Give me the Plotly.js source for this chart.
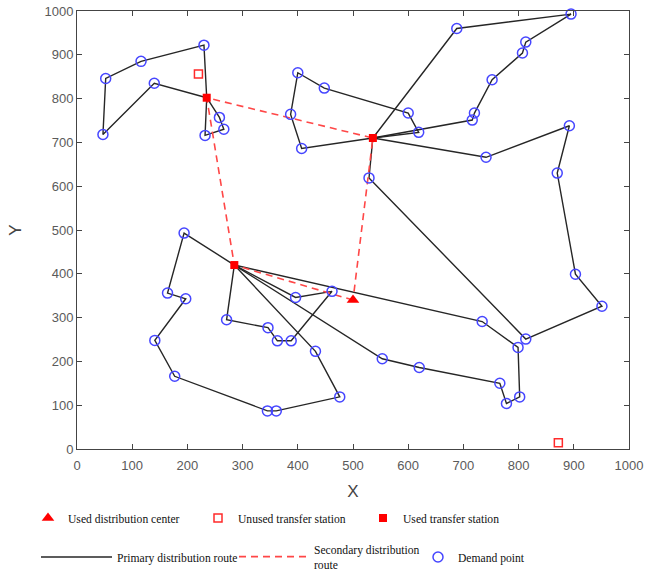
<!DOCTYPE html>
<html>
<head>
<meta charset="utf-8">
<script src="https://cdn.plot.ly/plotly-3.0.1.min.js"></script>
<style>html,body{margin:0;padding:0;background:#fff;}#chart{width:650px;height:574px;}</style>
</head>
<body>
<div id="chart"></div>
<script>
// ---- data ----
var demandX = [140,47,52,116,230,258,266,232,
  688,895,813,807,752,720,716,
  619,600,448,400,387,407,
  741,892,870,903,951,813,529,
  194,164,197,141,177,345,361,476,432,
  396,462,388,363,346,271,
  734,799,802,778,766,620,553];
var demandY = [835,718,846,885,922,757,730,716,
  960,993,929,904,843,767,751,
  723,767,824,859,764,686,
  666,738,630,399,326,251,619,
  493,356,343,248,166,87,87,119,223,
  346,360,247,247,277,295,
  291,232,119,104,150,186,206];

var centerX = [500];
var centerY = [340];

var usedStationX = [235,536,285];
var usedStationY = [802,710,420];

var unusedStationX = [220,872];
var unusedStationY = [856,14];

// primary routes (each closed loop from a used transfer station)
var routeA1X = [235,140,47,52,116,230,235];
var routeA1Y = [802,835,718,846,885,922,802];
var routeA2X = [235,258,266,232,235];
var routeA2Y = [802,757,730,716,802];
var routeB1X = [536,688,895,813,807,752,720,716,536];
var routeB1Y = [710,960,993,929,904,843,767,751,710];
var routeB2X = [536,619,600,448,400,387,407,536];
var routeB2Y = [710,723,767,824,859,764,686,710];
var routeB3X = [536,741,892,870,903,951,813,529,536];
var routeB3Y = [710,666,738,630,399,326,251,619,710];
var routeC1X = [285,194,164,197,141,177,345,361,476,432,285];
var routeC1Y = [420,493,356,343,248,166,87,87,119,223,420];
var routeC2X = [285,396,462,388,363,346,271,285];
var routeC2Y = [420,346,360,247,247,277,295,420];
var routeC3X = [285,734,799,802,778,766,620,553,285];
var routeC3Y = [420,291,232,119,104,150,186,206,420];

// secondary route: distribution center -> stations -> back
var secondaryX = [500,285,235,536,500];
var secondaryY = [340,420,802,710,340];

var tickVals = [0,100,200,300,400,500,600,700,800,900,1000];

// ---- build traces ----
function joinRoutes(list) {
  var out = [];
  list.forEach(function (r, i) {
    if (i > 0) out.push(null);
    out = out.concat(r);
  });
  return out;
}
var primaryX = joinRoutes([routeA1X, routeA2X, routeB1X, routeB2X, routeB3X, routeC1X, routeC2X, routeC3X]);
var primaryY = joinRoutes([routeA1Y, routeA2Y, routeB1Y, routeB2Y, routeB3Y, routeC1Y, routeC2Y, routeC3Y]);

var legendFont = {family: 'Liberation Serif, Times New Roman, serif', size: 11.6, color: '#111'};

var traces = [
  {x: primaryX, y: primaryY, type: 'scatter', mode: 'lines', connectgaps: false,
   name: 'Primary distribution route', legend: 'legend4',
   line: {color: '#262626', width: 1.4}},
  {x: secondaryX, y: secondaryY, type: 'scatter', mode: 'lines',
   name: 'Secondary distribution<br>route', legend: 'legend5',
   line: {color: '#ff4747', width: 1.6, dash: '7px,5px'}},
  {x: demandX, y: demandY, type: 'scatter', mode: 'markers', cliponaxis: false,
   name: 'Demand point', legend: 'legend6',
   marker: {symbol: 'circle-open', size: 10, color: '#4646ff', line: {width: 1.5, color: '#4646ff'}}},
  {x: centerX, y: centerY, type: 'scatter', mode: 'markers', cliponaxis: false,
   name: 'Used distribution center', legend: 'legend',
   marker: {symbol: 'triangle-up', size: 11, color: '#ff0000'}},
  {x: unusedStationX, y: unusedStationY, type: 'scatter', mode: 'markers', cliponaxis: false,
   name: 'Unused transfer station', legend: 'legend2',
   marker: {symbol: 'square-open', size: 8, color: '#ff2a2a', line: {width: 1.5, color: '#ff2a2a'}}},
  {x: usedStationX, y: usedStationY, type: 'scatter', mode: 'markers', cliponaxis: false,
   name: 'Used transfer station', legend: 'legend3',
   marker: {symbol: 'square', size: 8, color: '#ff0000'}}
];

// plot area: left 77, width 552; top 11, height 438
function leg(xp, yp, extra) {
  var o = {x: (xp - 77) / 552, y: (449 - yp) / 438,
    xanchor: 'left', yanchor: 'middle',
    bgcolor: 'rgba(0,0,0,0)', borderwidth: 0, font: legendFont, itemwidth: 30};
  for (var k in extra) o[k] = extra[k];
  return o;
}

function axisBase() {
  return {
    range: [0, 1000], tickvals: tickVals.slice(), ticktext: tickVals.map(String),
    ticks: 'inside', ticklen: 5, tickwidth: 1, tickcolor: '#444',
    showline: true, linecolor: '#444', linewidth: 1, mirror: 'ticks',
    showgrid: false, zeroline: false,
    tickfont: {family: 'Liberation Sans, Arial, sans-serif', size: 13, color: '#5a5a5a'}
  };
}
var xAxis = axisBase();
xAxis.ticklabelstandoff = 4;
xAxis.title = {text: 'X', font: {family: 'Liberation Sans, Arial, sans-serif', size: 17, color: '#444'}, standoff: 13};
var yAxis = axisBase();
yAxis.title = {text: 'Y', font: {family: 'Liberation Sans, Arial, sans-serif', size: 17, color: '#444'}, standoff: 18};

var layout = {
  width: 650, height: 574,
  margin: {l: 77, r: 21, t: 11, b: 125, autoexpand: false},
  paper_bgcolor: '#fff', plot_bgcolor: '#fff',
  showlegend: true,
  xaxis: xAxis,
  yaxis: yAxis,
  legend: leg(28, 518),
  legend2: leg(198, 518),
  legend3: leg(363, 518),
  legend4: leg(36, 557, {itemwidth: 71}),
  legend5: leg(234, 557, {itemwidth: 70}),
  legend6: leg(418, 557)
};

Plotly.newPlot('chart', traces, layout, {displayModeBar: false, staticPlot: true});
</script>
</body>
</html>
